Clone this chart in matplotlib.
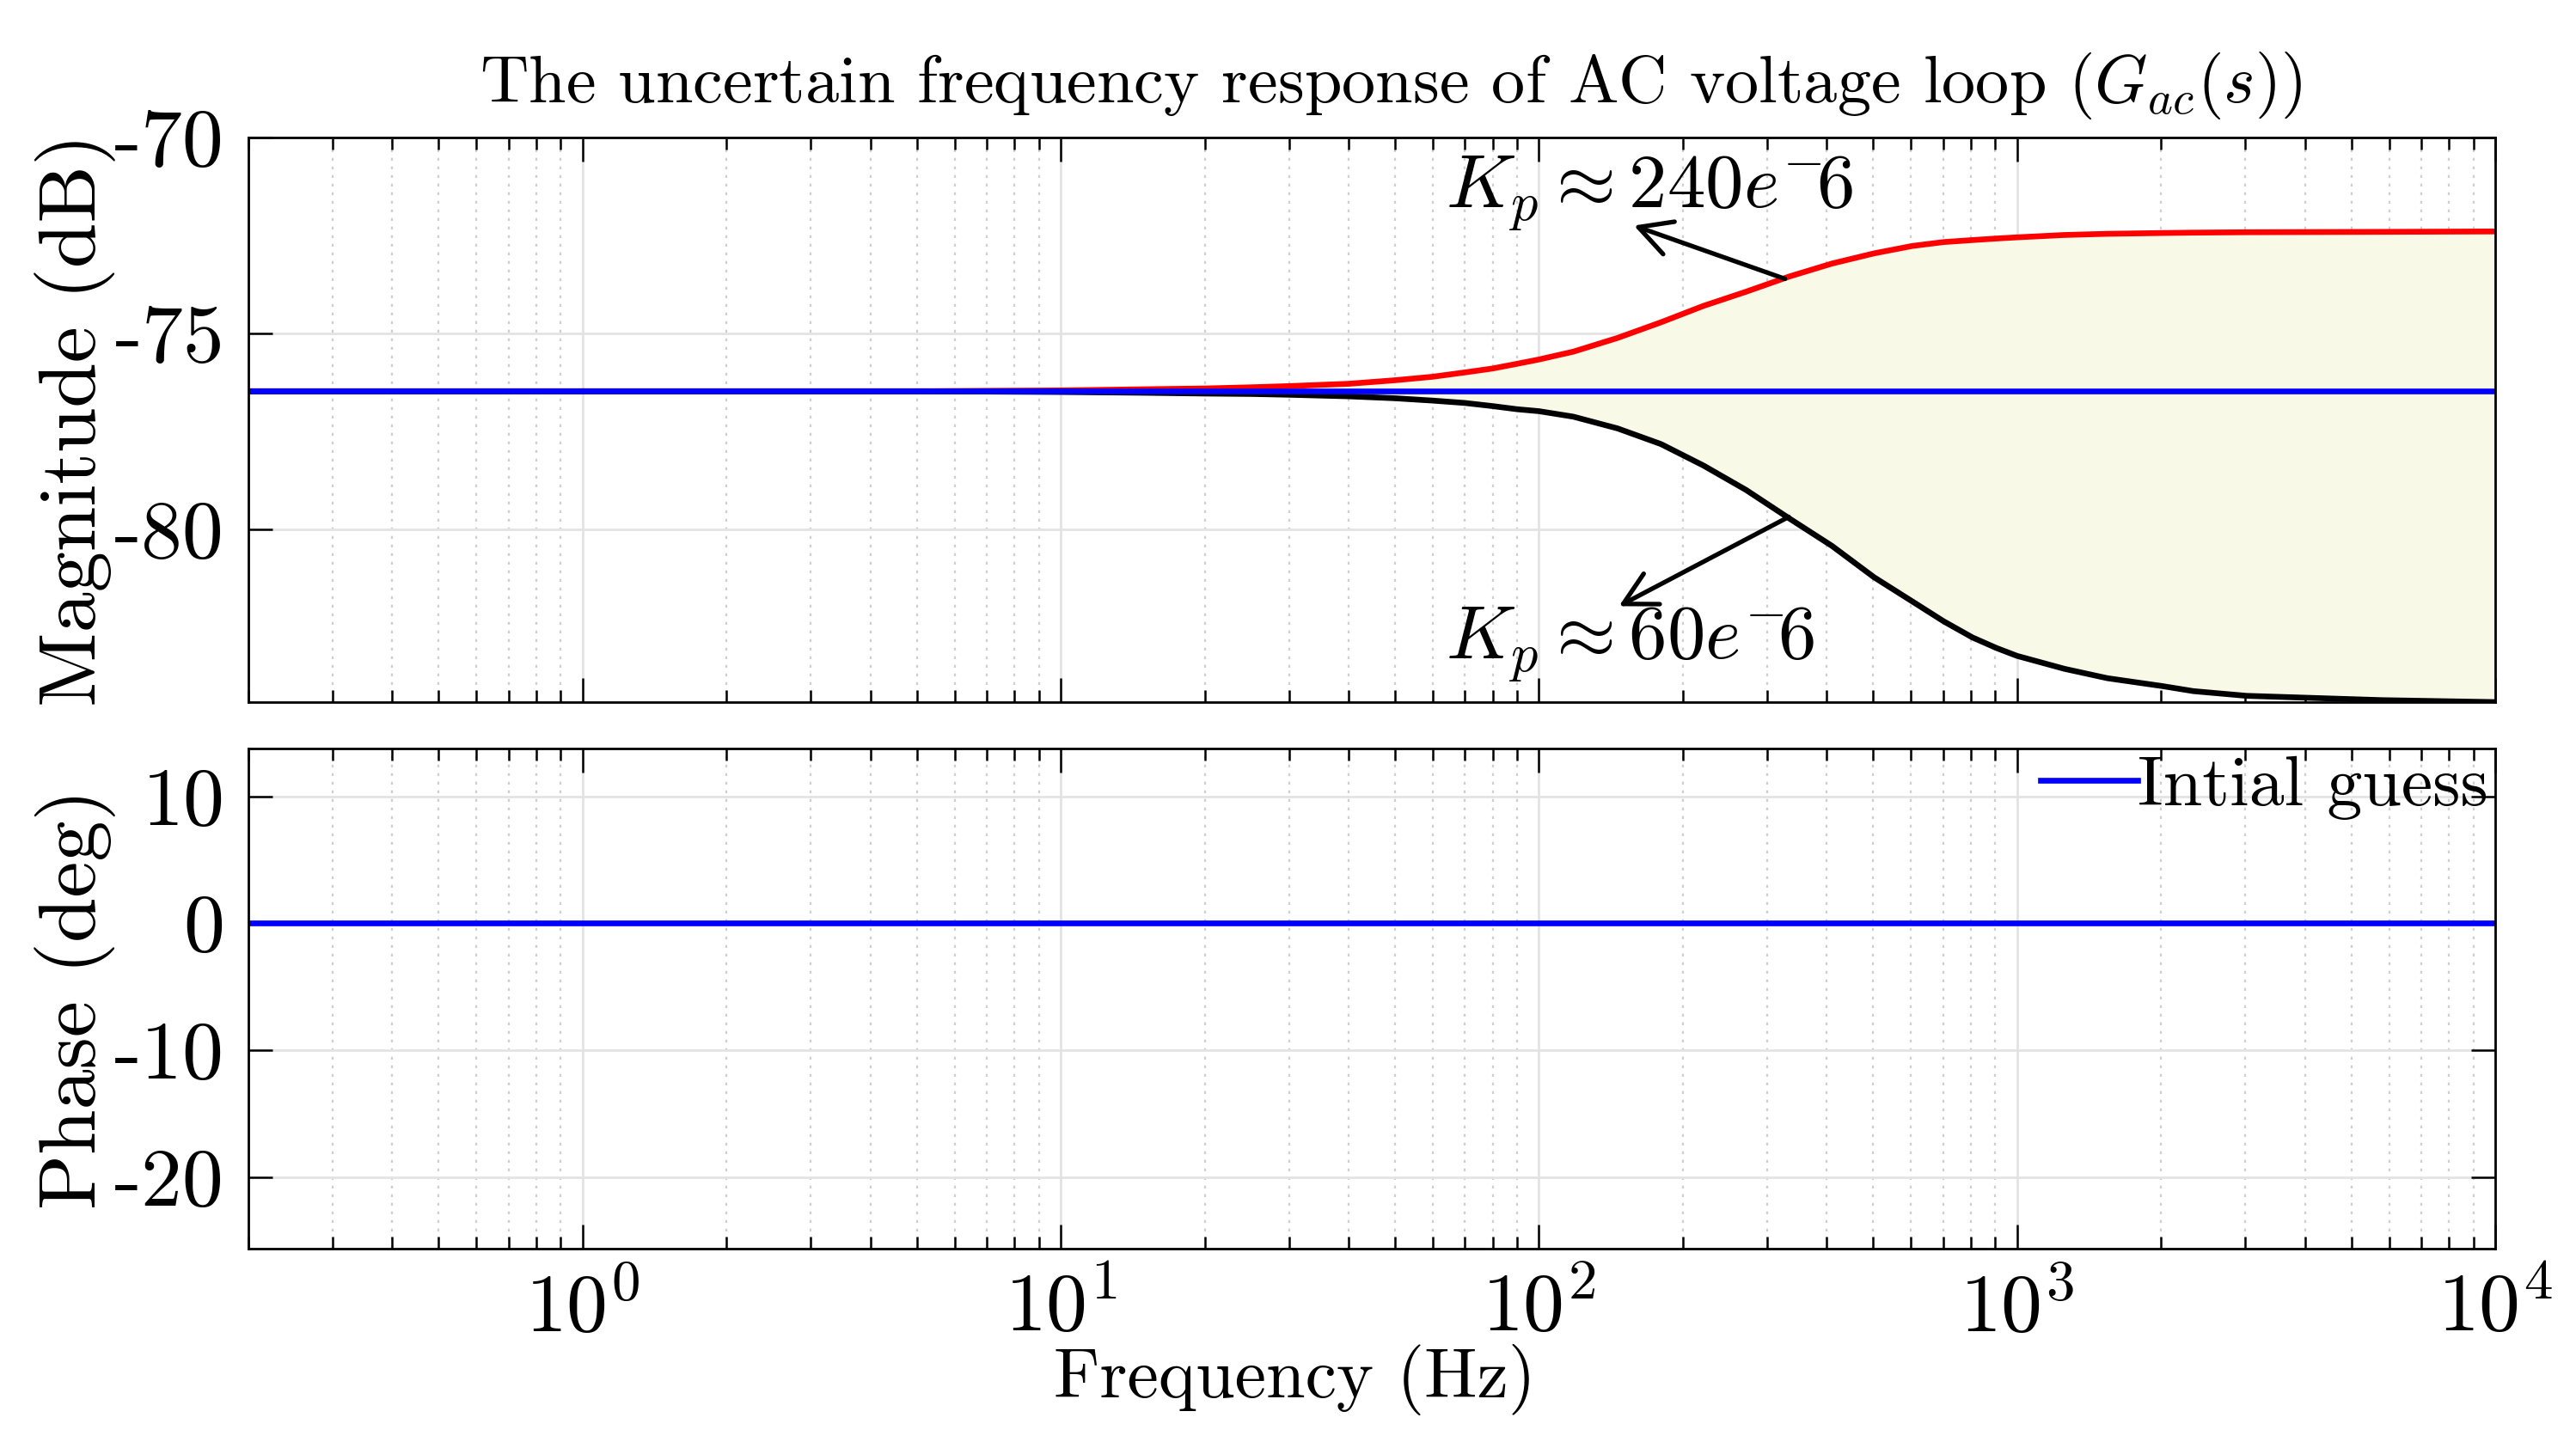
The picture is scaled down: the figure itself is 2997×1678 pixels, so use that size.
import numpy as np
import matplotlib
matplotlib.use("Agg")
import matplotlib.pyplot as plt
from matplotlib.ticker import LogLocator, FixedLocator, NullFormatter

plt.rcParams['font.family'] = 'serif'
plt.rcParams['font.serif'] = ['cmr10', 'DejaVu Serif']
plt.rcParams['mathtext.fontset'] = 'cm'
plt.rcParams['axes.unicode_minus'] = False

# ---------------- data ----------------
freq_hz = [0.2, 1, 5, 10, 15, 20, 25, 30, 40, 50, 60, 70, 80, 90, 100, 118, 146,
           180, 221, 271, 334, 410, 502, 604, 703, 807, 906, 1000, 1256, 1545,
           2010, 2337, 3020, 5790, 10000]
mag_kp_high = [-76.48, -76.48, -76.48, -76.46, -76.43, -76.41, -76.38, -76.35,
               -76.29, -76.20, -76.11, -76.00, -75.90, -75.78, -75.67, -75.47,
               -75.12, -74.72, -74.30, -73.94, -73.55, -73.22, -72.96, -72.77,
               -72.67, -72.62, -72.58, -72.55, -72.49, -72.46, -72.44, -72.43,
               -72.42, -72.41, -72.40]
mag_kp_low = [-76.48, -76.48, -76.48, -76.50, -76.52, -76.54, -76.55, -76.57,
              -76.61, -76.66, -76.72, -76.78, -76.86, -76.94, -76.99, -77.13,
              -77.43, -77.83, -78.38, -79.00, -79.73, -80.43, -81.23, -81.85,
              -82.36, -82.77, -83.04, -83.24, -83.57, -83.81, -84.01, -84.14,
              -84.26, -84.37, -84.42]
mag_initial = [-76.48] * len(freq_hz)
phase_initial = [0.0] * len(freq_hz)

mag_yticks = [-80, -75, -70]
mag_yticklabels = ['-80', '-75', '-70']
phase_yticks = [-20, -10, 0, 10]
phase_yticklabels = ['-20', '-10', '0', '10']
xticks = [1, 10, 100, 1000, 10000]
xticklabels = [r'$10^{0}$', r'$10^{1}$', r'$10^{2}$', r'$10^{3}$', r'$10^{4}$']

title_text = r'The uncertain frequency response of AC voltage loop ($G_{ac}(s)$)'
label_high = r'$K_p \approx 240e^{-}\hspace{-0.2}6$'
label_low = r'$K_p \approx 60e^{-}\hspace{-0.2}6$'
legend_label = 'Intial guess'

# ---------------- figure ----------------
fig = plt.figure(figsize=(2997 / 200, 1678 / 200), dpi=200)
ax_m = fig.add_axes([0.09643, 0.51311, 0.87221, 0.39154])
ax_p = fig.add_axes([0.09643, 0.13409, 0.87221, 0.34684])

fill_col = '#f9f9e8'
ax_m.fill_between(freq_hz, mag_kp_low, mag_kp_high, color=fill_col, lw=0, zorder=1)
ax_m.plot(freq_hz, mag_kp_high, color='#ff0000', lw=2.4, zorder=3)
ax_m.plot(freq_hz, mag_kp_low, color='black', lw=2.4, zorder=3)
ax_m.plot(freq_hz, mag_initial, color='#0000ff', lw=2.4, zorder=4)

ax_p.plot(freq_hz, phase_initial, color='#0000ff', lw=2.4, zorder=4, label=legend_label)

for ax in (ax_m, ax_p):
    ax.set_xscale('log')
    ax.set_xlim(0.2, 1e4)
    ax.xaxis.set_major_locator(FixedLocator(xticks))
    ax.xaxis.set_minor_locator(LogLocator(base=10, subs=np.arange(2, 10), numticks=50))
    ax.xaxis.set_minor_formatter(NullFormatter())
    ax.grid(True, which='major', color='#e3e3e3', lw=1.0, ls='-', zorder=0)
    ax.grid(True, which='minor', axis='x', color='#cfcfcf', lw=0.8, ls=(0, (1.5, 3)), zorder=0)
    ax.set_axisbelow(True)
    ax.tick_params(which='both', direction='in', top=True, right=True, width=0.9,
                   labelsize=34.5, pad=10)
    ax.tick_params(which='major', length=10)
    ax.tick_params(which='minor', length=5)
    for s in ax.spines.values():
        s.set_linewidth(1.0)
        s.set_zorder(6)

ax_m.set_ylim(-84.42, -70)
ax_m.set_yticks(mag_yticks)
ax_m.set_yticklabels(mag_yticklabels)
ax_m.set_xticklabels([])

ax_p.set_ylim(-25.65, 13.76)
ax_p.set_yticks(phase_yticks)
ax_p.set_yticklabels(phase_yticklabels)
ax_p.set_xticklabels(xticklabels)

# annotations
arrow_kw = dict(arrowstyle='->,head_length=0.45,head_width=0.24', lw=1.9, color='black',
                mutation_scale=30, shrinkA=0, shrinkB=0)
ax_m.annotate('', xy=(158, -72.25), xytext=(327, -73.61), arrowprops=arrow_kw, zorder=5)
ax_m.annotate('', xy=(147, -81.97), xytext=(333, -79.69), arrowprops=arrow_kw, zorder=5)
ax_m.text(63.9, -71.79, label_high, fontsize=32, ha='left', va='baseline', zorder=5)
ax_m.text(63.9, -83.33, label_low, fontsize=32, ha='left', va='baseline', zorder=5)

leg = ax_p.legend(loc='upper right', bbox_to_anchor=(1.0, 1.0), frameon=False,
                  fontsize=29.5, handlelength=1.38, handletextpad=0.0,
                  borderaxespad=0.0, borderpad=0.1)

# labels
fig.text(1618 / 2997, 1 - 118.6 / 1678, title_text, fontsize=28.2, ha='center', va='baseline')
fig.text(111.6 / 2997, 1 - 488.5 / 1678, 'Magnitude (dB)', fontsize=34, rotation=90,
         rotation_mode='anchor', ha='center', va='baseline')
fig.text(111.6 / 2997, 1 - 1162 / 1678, 'Phase (deg)', fontsize=34, rotation=90,
         rotation_mode='anchor', ha='center', va='baseline')
fig.text(1506 / 2997, 1 - 1626 / 1678, 'Frequency (Hz)', fontsize=29.5, ha='center', va='baseline')

fig.savefig('out.png', dpi=200, facecolor='white')
